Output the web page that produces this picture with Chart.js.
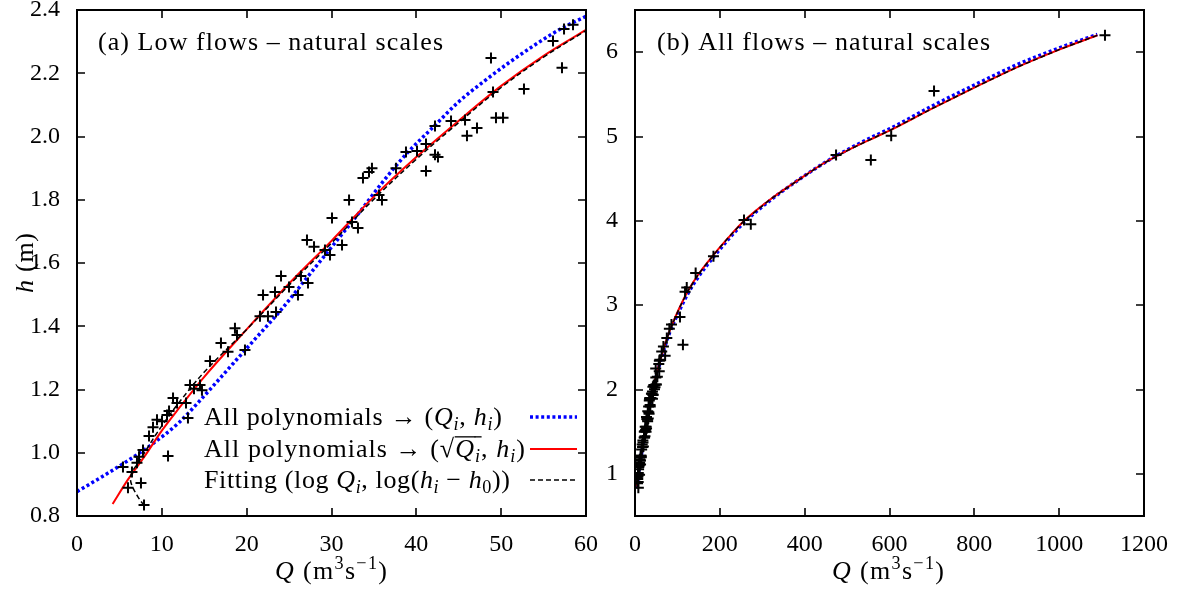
<!DOCTYPE html>
<html><head><meta charset="utf-8">
<script src="https://cdn.jsdelivr.net/npm/chart.js@4.4.1/dist/chart.umd.min.js"></script>
<style>
html,body{margin:0;padding:0;background:#fff;}
#wrap{position:relative;width:1188px;height:594px;overflow:hidden;}
.box{position:absolute;top:0;height:594px;}
</style></head><body>
<div id="wrap">
<div class="box" style="left:0;width:640px"><canvas id="ca" width="640" height="594"></canvas></div>
<div class="box" style="left:594px;width:594px"><canvas id="cb" width="594" height="594"></canvas></div>
</div>
<script>
// ---------- data ----------
// observed gaugings, low flows (Q in m3/s, h in m)
const lowQ = [7.9, 7.54, 6.01, 5.42, 7.07, 6.48, 10.73, 7.31, 7.78, 8.49, 8.96, 9.43, 10.02, 10.61, 10.85, 11.32, 11.79, 12.85, 13.08, 13.32, 13.79, 14.5, 14.73, 15.68, 16.97, 17.8, 18.62, 18.86, 19.8, 21.57, 22.51, 23.46, 21.93, 23.34, 24.05, 24.99, 26.05, 26.4, 27.23, 27.11, 27.94, 29.23, 29.82, 31.24, 30.06, 32.42, 33.12, 32.07, 33.71, 34.42, 34.77, 35.6, 35.95, 37.6, 38.78, 40.08, 41.14, 41.14, 42.2, 42.55, 42.2, 44.09, 45.74, 45.97, 47.15, 48.8, 49.04, 49.39, 50.22, 52.69, 56.11, 57.17, 57.41, 58.47];
const lowH = [0.835, 0.904, 0.889, 0.955, 0.968, 0.939, 0.99, 0.987, 1.009, 1.053, 1.081, 1.104, 1.1, 1.119, 1.132, 1.173, 1.157, 1.157, 1.11, 1.214, 1.202, 1.214, 1.198, 1.29, 1.347, 1.319, 1.394, 1.372, 1.325, 1.432, 1.432, 1.445, 1.499, 1.508, 1.559, 1.524, 1.499, 1.559, 1.537, 1.673, 1.651, 1.641, 1.625, 1.657, 1.742, 1.73, 1.711, 1.799, 1.869, 1.888, 1.9, 1.815, 1.799, 1.9, 1.951, 1.954, 1.976, 1.891, 1.942, 1.935, 2.033, 2.049, 2.052, 2.002, 2.027, 2.248, 2.141, 2.059, 2.059, 2.15, 2.302, 2.217, 2.34, 2.353];
// additional gaugings at higher flows (shown only in panel b)
const highQ = [63, 67, 71, 75, 81, 86, 106, 113, 118, 122, 143, 185, 257, 273, 474, 556, 604, 705, 1108];
const highH = [2.45, 2.51, 2.40, 2.61, 2.72, 2.77, 2.86, 2.53, 3.16, 3.21, 3.38, 3.58, 4.01, 3.96, 4.78, 4.72, 5.01, 5.54, 6.20];

// panel (a) fitted curves
const polyLowQ = [0, 3, 6, 9, 12, 15, 18, 21, 24, 27, 30, 33, 36, 39, 42, 45, 48, 51, 54, 57, 60];
const polyLowH = [0.877, 0.925, 0.975, 1.03, 1.095, 1.18, 1.27, 1.36, 1.45, 1.55, 1.65, 1.75, 1.855, 1.95, 2.03, 2.11, 2.175, 2.235, 2.29, 2.34, 2.38];
const sqrtLowQ = [4.2, 6, 8, 10, 12, 15, 20, 25, 30, 35, 40, 45, 50, 55, 60];
const sqrtLowH = [0.838, 0.915, 0.99, 1.07, 1.14, 1.24, 1.39, 1.535, 1.67, 1.81, 1.935, 2.05, 2.16, 2.255, 2.337];
const logLowQ = [7.9, 7.2, 6.6, 6.3, 6.5, 7.0, 7.6, 8.3, 9, 10, 12, 15, 20, 25, 30, 35, 40, 45, 50, 55, 60];
const logLowH = [0.833, 0.86, 0.889, 0.915, 0.94, 0.96, 0.985, 1.015, 1.045, 1.085, 1.158, 1.255, 1.39, 1.53, 1.663, 1.802, 1.928, 2.044, 2.155, 2.251, 2.335];

// panel (b) fitted curves
const polyAllQ = [4, 10, 20, 35, 50, 65, 82, 105, 125, 150, 185, 220, 255, 318, 381, 444, 507, 570, 600, 700, 800, 900, 1000, 1090];
const polyAllH = [0.83, 1.06, 1.38, 1.82, 2.15, 2.42, 2.68, 2.94, 3.14, 3.34, 3.57, 3.78, 3.97, 4.24, 4.47, 4.68, 4.86, 5.02, 5.09, 5.36, 5.61, 5.85, 6.05, 6.21];
const sqrtAllQ = [4, 10, 20, 35, 50, 65, 82, 105, 125, 150, 185, 220, 255, 318, 381, 444, 507, 570, 600, 700, 800, 900, 1000, 1090];
const sqrtAllH = [0.85, 1.09, 1.40, 1.84, 2.17, 2.44, 2.70, 2.97, 3.17, 3.37, 3.595, 3.80, 3.99, 4.25, 4.47, 4.68, 4.85, 5.00, 5.07, 5.33, 5.58, 5.82, 6.03, 6.20];
const logAllQ = [5, 10, 20, 35, 50, 65, 82, 105, 125, 150, 185, 220, 255, 318, 381, 444, 507, 570, 600, 700, 800, 900, 1000, 1090];
const logAllH = [0.86, 1.09, 1.40, 1.84, 2.17, 2.44, 2.70, 2.97, 3.17, 3.37, 3.595, 3.80, 3.99, 4.25, 4.47, 4.68, 4.85, 5.00, 5.07, 5.33, 5.58, 5.82, 6.03, 6.20];

// tick labels
const lowQTicks = [0, 10, 20, 30, 40, 50, 60];
const lowHTicks = [0.8, 1.0, 1.2, 1.4, 1.6, 1.8, 2.0, 2.2, 2.4];
const allQTicks = [0, 200, 400, 600, 800, 1000, 1200];
const allHTicks = [1, 2, 3, 4, 5, 6];

// ---------- helpers ----------
const FONT = "'Liberation Serif','Times New Roman',serif";
const pts = (xs, ys) => xs.map((x, i) => ({x: x, y: ys[i]}));

function drawRich(ctx, item) {
  const size = item.size;
  const glyphs = [];
  let w = 0;
  for (const s of item.segs) {
    const small = s.sub || s.sup;
    const fs = small ? size * 0.7 : size;
    const font = (s.it ? 'italic ' : '') + fs + 'px ' + FONT;
    ctx.font = font;
    for (const ch of s.t) {
      const cw = ctx.measureText(ch).width;
      glyphs.push({ch, font, x: w, cw, dy: s.sub ? size * 0.2 : (s.sup ? -size * 0.38 : 0), ov: s.ov});
      w += cw;
    }
  }
  const n = glyphs.length;
  const ls = item.w ? (item.w - w) / Math.max(1, n - 1) : 0;
  const total = w + ls * (n - 1);
  const x0 = item.align === 'center' ? -total / 2 : 0;
  ctx.save();
  ctx.translate(item.x, item.y);
  if (item.rot) ctx.rotate(item.rot);
  ctx.fillStyle = '#000';
  ctx.textAlign = 'left';
  ctx.textBaseline = 'alphabetic';
  glyphs.forEach((g, i) => {
    const gx = x0 + g.x + ls * i;
    ctx.font = g.font;
    ctx.fillText(g.ch, gx, g.dy);
    if (g.ov) ctx.fillRect(gx - 0.5, -size * 0.8, g.cw + ls + 1, 1.3);
  });
  ctx.restore();
}

const unitSegs = [{t: 'Q', it: 1}, {t: ' (m'}, {t: '3', sup: 1}, {t: 's'}, {t: '\u22121', sup: 1}, {t: ')'}];

const decor = {
  ca: {
    texts: [
      {x: 98, y: 50, size: 26, w: 345, segs: [{t: '(a) Low flows \u2013 natural scales'}]},
      {x: 33, y: 263, size: 26, w: 60, align: 'center', rot: -Math.PI / 2, segs: [{t: 'h', it: 1}, {t: ' (m)'}]},
      {x: 331, y: 579, size: 26, w: 112, align: 'center', segs: unitSegs}
    ],
    legend: [
      {ds: 3, y: 417, w: 298, segs: [{t: 'All polynomials \u2192 ('}, {t: 'Q', it: 1}, {t: 'i', it: 1, sub: 1}, {t: ', '}, {t: 'h', it: 1}, {t: 'i', it: 1, sub: 1}, {t: ')'}]},
      {ds: 2, y: 449, w: 321, segs: [{t: 'All polynomials \u2192 ('}, {t: '\u221A'}, {t: 'Q', it: 1, ov: 1}, {t: 'i', it: 1, sub: 1, ov: 1}, {t: ', '}, {t: 'h', it: 1}, {t: 'i', it: 1, sub: 1}, {t: ')'}]},
      {ds: 1, y: 480, w: 306, segs: [{t: 'Fitting (log '}, {t: 'Q', it: 1}, {t: 'i', it: 1, sub: 1}, {t: ', log('}, {t: 'h', it: 1}, {t: 'i', it: 1, sub: 1}, {t: ' \u2212 '}, {t: 'h', it: 1}, {t: '0', sub: 1}, {t: '))'}]}
    ],
    legendTextX: 204, legendX1: 530, legendX2: 577
  },
  cb: {
    texts: [
      {x: 63, y: 50, size: 26, w: 333, segs: [{t: '(b) All flows \u2013 natural scales'}]},
      {x: 294, y: 579, size: 26, w: 112, align: 'center', segs: unitSegs}
    ],
    legend: []
  }
};

const framePlugin = {
  id: 'frameDecor',
  afterDraw(chart) {
    const ctx = chart.ctx, a = chart.chartArea, xs = chart.scales.x, ys = chart.scales.y;
    const d = decor[chart.canvas.id];
    ctx.save();
    ctx.strokeStyle = '#000';
    ctx.lineWidth = 2;
    ctx.strokeRect(a.left, a.top, a.right - a.left, a.bottom - a.top);
    ctx.lineWidth = 1.6;
    ctx.beginPath();
    const L = 8;
    for (const t of xs.ticks) {
      const px = Math.round(xs.getPixelForValue(t.value));
      ctx.moveTo(px, a.bottom); ctx.lineTo(px, a.bottom - L);
      ctx.moveTo(px, a.top); ctx.lineTo(px, a.top + L);
    }
    for (const t of ys.ticks) {
      const py = Math.round(ys.getPixelForValue(t.value));
      ctx.moveTo(a.left, py); ctx.lineTo(a.left + L, py);
      ctx.moveTo(a.right, py); ctx.lineTo(a.right - L, py);
    }
    ctx.stroke();
    ctx.restore();
    for (const it of d.texts) drawRich(ctx, it);
    for (const row of d.legend) {
      const ds = chart.data.datasets[row.ds];
      drawRich(ctx, {x: d.legendTextX, y: row.y + 8, size: 26, w: row.w, segs: row.segs});
      ctx.save();
      ctx.strokeStyle = ds.borderColor;
      ctx.lineWidth = ds.borderWidth;
      ctx.setLineDash(ds.borderDash || []);
      ctx.beginPath();
      ctx.moveTo(d.legendX1, row.y);
      ctx.lineTo(d.legendX2, row.y);
      ctx.stroke();
      ctx.restore();
    }
  }
};

function makeScales(xMin, xMax, xTicks, yMin, yMax, yTicks, yWidth, yFmt) {
  const tickFont = {family: FONT, size: 24};
  return {
    x: {
      type: 'linear', min: xMin, max: xMax,
      grid: {display: false}, border: {display: false},
      ticks: {font: tickFont, color: '#000', padding: 6, maxRotation: 0, autoSkip: false, callback: v => String(v)},
      afterBuildTicks: s => { s.ticks = xTicks.map(v => ({value: v})); },
      afterFit: s => { s.height = 78; s.paddingLeft = 0; s.paddingRight = 0; }
    },
    y: {
      type: 'linear', min: yMin, max: yMax,
      grid: {display: false}, border: {display: false},
      ticks: {font: tickFont, color: '#000', padding: 9, autoSkip: false, callback: yFmt},
      afterBuildTicks: s => { s.ticks = yTicks.map(v => ({value: v})); },
      afterFit: s => { s.width = yWidth; s.paddingTop = 0; s.paddingBottom = 0; }
    }
  };
}

function datasets(pQ, pH, logQ, logH, sqrtQ, sqrtH, polyQ, polyH, logTension) {
  return [
    {label: 'Gaugings', data: pts(pQ, pH), pointStyle: 'cross', pointRadius: 5.5, pointHoverRadius: 5.5,
     borderColor: '#000', backgroundColor: '#000', borderWidth: 2, showLine: false, order: 0},
    {label: 'Fitting (log Qi, log(hi - h0))', data: pts(logQ, logH), showLine: true, pointRadius: 0,
     borderColor: '#000', borderWidth: 1.5, borderDash: [5, 3], tension: logTension, order: 1},
    {label: 'All polynomials -> (sqrt Qi, hi)', data: pts(sqrtQ, sqrtH), showLine: true, pointRadius: 0,
     borderColor: '#ff0000', borderWidth: 2, cubicInterpolationMode: 'monotone', order: 2},
    {label: 'All polynomials -> (Qi, hi)', data: pts(polyQ, polyH), showLine: true, pointRadius: 0,
     borderColor: '#0000ff', borderWidth: 3.5, borderDash: [3, 2.6], cubicInterpolationMode: 'monotone', order: 3}
  ];
}

const common = {responsive: false, animation: false, events: [],
  plugins: {legend: {display: false}, tooltip: {enabled: false}}};

new Chart(document.getElementById('ca'), {
  type: 'scatter',
  data: {datasets: datasets(lowQ, lowH, logLowQ, logLowH, sqrtLowQ, sqrtLowH, polyLowQ, polyLowH, 0.35)},
  options: Object.assign({}, common, {
    layout: {padding: {top: 10, right: 54, left: 0, bottom: 0}},
    scales: makeScales(0, 60, lowQTicks, 0.8, 2.4, lowHTicks, 77, v => Number(v).toFixed(1))
  }),
  plugins: [framePlugin]
});

new Chart(document.getElementById('cb'), {
  type: 'scatter',
  data: {datasets: datasets(lowQ.concat(highQ), lowH.concat(highH), logAllQ, logAllH, sqrtAllQ, sqrtAllH, polyAllQ, polyAllH, 0)},
  options: Object.assign({}, common, {
    layout: {padding: {top: 10, right: 44, left: 0, bottom: 0}},
    scales: makeScales(0, 1200, allQTicks, 0.5, 6.5, allHTicks, 41, v => String(v))
  }),
  plugins: [framePlugin]
});
</script>
</body></html>
